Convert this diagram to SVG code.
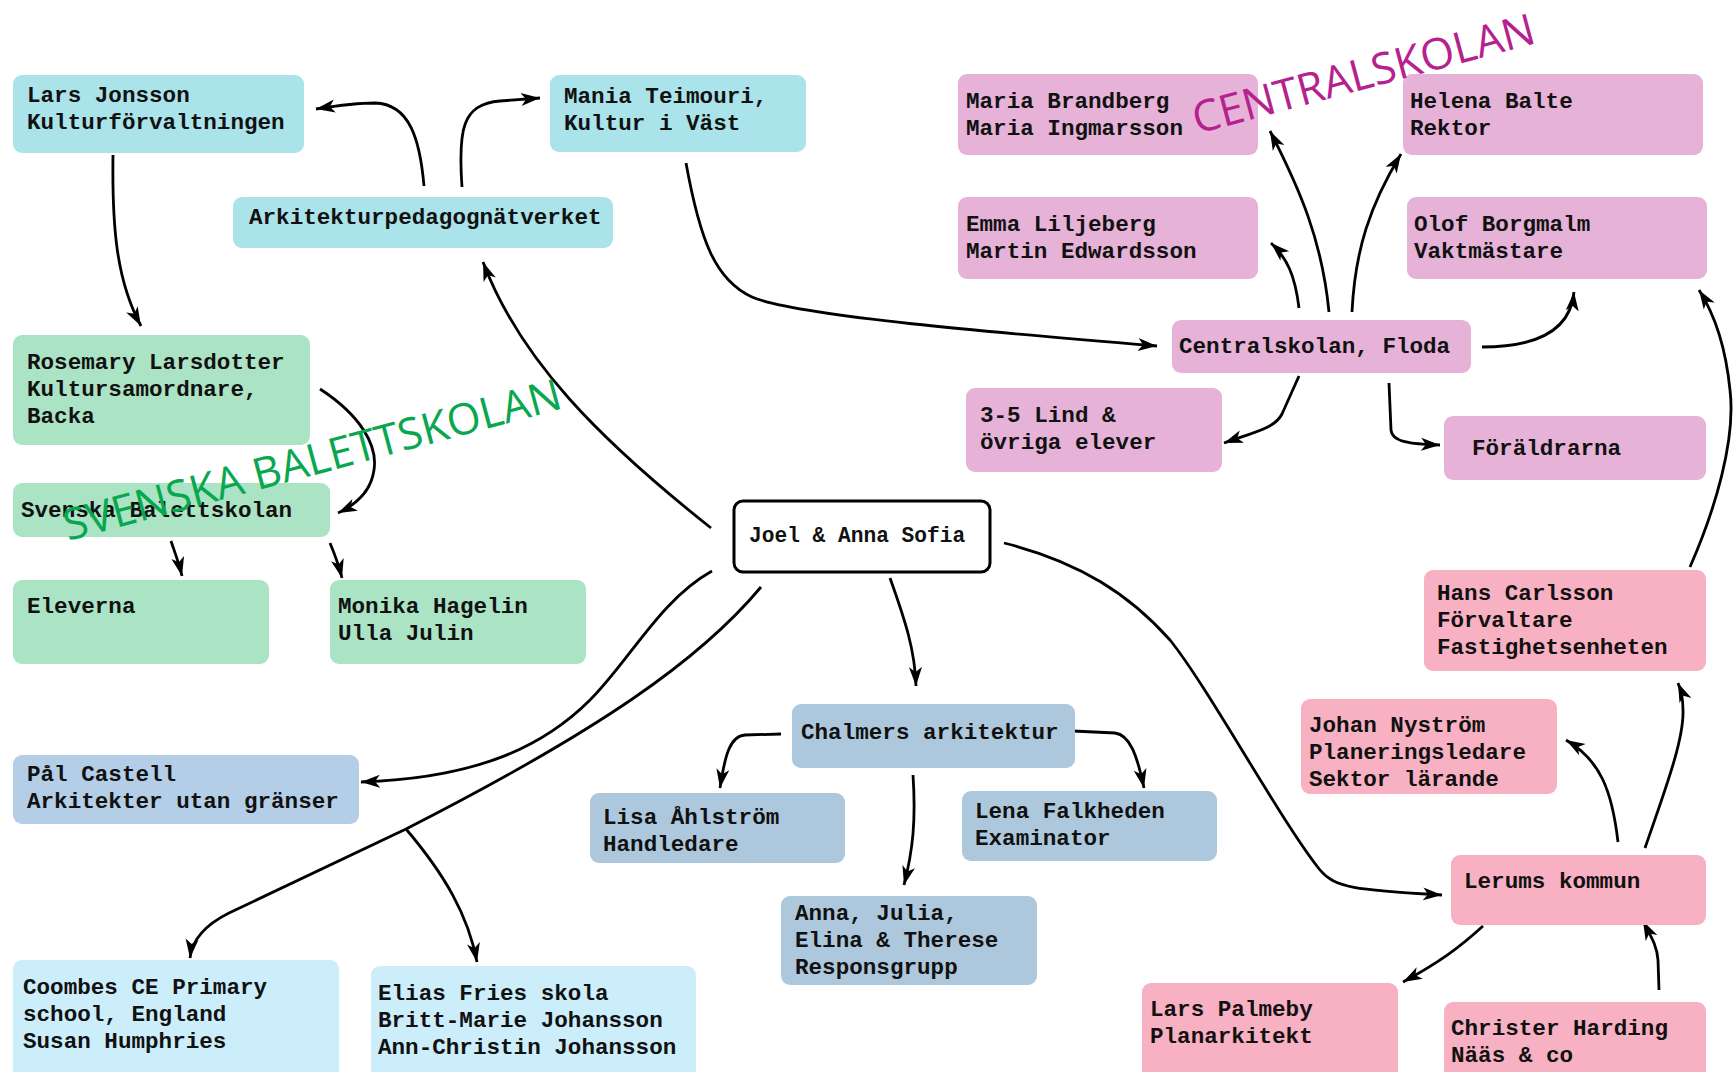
<svg xmlns="http://www.w3.org/2000/svg" width="1735" height="1072" viewBox="0 0 1735 1072">
<style>
.t{font-family:"Liberation Mono","Courier New",monospace;font-weight:bold;font-size:22.6px;fill:#111}
.c{fill:none;stroke:#000;stroke-width:2.8;marker-end:url(#ah)}
.cy{fill:#aae3ea}.gr{fill:#abe3c5}.pu{fill:#e6b2d7}.pk{fill:#f8b0c3}.sb{fill:#adc8dc}.pb{fill:#b3cee6}.lb{fill:#ccedfa}
.ov{font-family:"Open Sans","Noto Sans",sans-serif;font-size:43.5px}
</style>
<defs>
<marker id="ah" markerUnits="userSpaceOnUse" markerWidth="20" markerHeight="16" viewBox="0 0 20 16" refX="19" refY="8" orient="auto"><path d="M0,1.5 L19,8 L0,14.5 L5,8 Z" fill="#000"/></marker>
</defs>
<rect width="1735" height="1072" fill="#fff"/>
<g id="connectors">
<path class="c" d="M424,186 C420,140 410,104 375,103 C355,103 335,106 316,109"/>
<path class="c" d="M462,187 C458,130 462,104 500,101 C515,100 528,99 540,98"/>
<path class="c" d="M113,155 C112,225 116,280 141,326"/>
<path class="c" d="M320,389 C360,415 378,445 374,470 C371,492 355,505 338,513"/>
<path class="c" d="M171,541 C175,553 179,563 182,576"/>
<path class="c" d="M330,543 C335,555 339,566 342,578"/>
<path class="c" d="M711,528 C600,440 520,360 483,262"/>
<path class="c" d="M686,163 C700,240 715,280 752,297 C795,316 1000,333 1157,346"/>
<path class="c" d="M1329,312 C1322,240 1300,190 1270,131"/>
<path class="c" d="M1299,308 C1295,275 1287,258 1271,243"/>
<path class="c" d="M1352,312 C1355,250 1370,205 1401,154"/>
<path class="c" d="M1482,347 C1530,347 1570,335 1574,292"/>
<path class="c" d="M1299,376 L1282,414 C1275,428 1255,432 1224,443"/>
<path class="c" d="M1389,383 L1391,430 C1392,442 1410,444 1440,445"/>
<path class="c" d="M1690,567 C1715,510 1736,440 1730,390 C1726,350 1715,315 1699,290"/>
<path class="c" d="M890,578 C905,620 915,650 916,686"/>
<path class="c" d="M781,734 L745,735 C730,736 725,755 720,788"/>
<path class="c" d="M1073,731 L1115,733 C1130,735 1137,755 1144,788"/>
<path class="c" d="M913,775 C916,820 913,850 904,885"/>
<path class="c" d="M712,571 C660,600 630,660 590,700 C545,745 480,778 361,782"/>
<path class="c" d="M761,587 C700,660 600,730 406,829 L229,913 C205,925 192,940 190,958"/>
<path class="c" d="M406,829 C445,875 468,915 477,962"/>
<path class="c" d="M1004,543 C1080,562 1130,595 1170,640 C1210,690 1280,820 1320,870 C1335,888 1355,890 1442,895"/>
<path class="c" d="M1618,842 C1612,790 1600,760 1566,740"/>
<path class="c" d="M1645,848 C1665,790 1684,740 1683,710 C1683,698 1681,690 1678,683"/>
<path class="c" d="M1483,926 C1460,947 1440,962 1403,982"/>
<path class="c" d="M1659,990 L1658,960 C1657,945 1650,935 1643,921"/>
</g>
<g id="n-lars-jonsson"><rect class="cy" x="13" y="75" width="291" height="78" rx="9"/><text class="t" x="27" y="102">Lars Jonsson</text><text class="t" x="27" y="129">Kulturförvaltningen</text></g>
<g id="n-mania"><rect class="cy" x="550" y="75" width="256" height="77" rx="9"/><text class="t" x="564" y="103">Mania Teimouri,</text><text class="t" x="564" y="130">Kultur i Väst</text></g>
<g id="n-arkitektur"><rect class="cy" x="233" y="197" width="380" height="51" rx="9"/><text class="t" x="249" y="224">Arkitekturpedagognätverket</text></g>
<g id="n-rosemary"><rect class="gr" x="13" y="335" width="297" height="110" rx="9"/><text class="t" x="27" y="369">Rosemary Larsdotter</text><text class="t" x="27" y="396">Kultursamordnare,</text><text class="t" x="27" y="423">Backa</text></g>
<g id="n-svenska"><rect class="gr" x="13" y="483" width="317" height="54" rx="9"/><text class="t" x="21" y="517">Svenska Balettskolan</text></g>
<g id="n-eleverna"><rect class="gr" x="13" y="580" width="256" height="84" rx="9"/><text class="t" x="27" y="613">Eleverna</text></g>
<g id="n-monika"><rect class="gr" x="330" y="580" width="256" height="84" rx="9"/><text class="t" x="338" y="613">Monika Hagelin</text><text class="t" x="338" y="640">Ulla Julin</text></g>
<g id="n-joel"><rect x="734" y="501" width="256" height="71" rx="9" fill="#fff" stroke="#000" stroke-width="3"/><text class="t" x="749" y="542" style="font-size:21.2px">Joel &amp; Anna Sofia</text></g>
<g id="n-pal"><rect class="pb" x="13" y="755" width="346" height="69" rx="9"/><text class="t" x="27" y="781">Pål Castell</text><text class="t" x="27" y="808">Arkitekter utan gränser</text></g>
<g id="n-coombes"><rect class="lb" x="13" y="960" width="326" height="130" rx="9"/><text class="t" x="23" y="994">Coombes CE Primary</text><text class="t" x="23" y="1021">school, England</text><text class="t" x="23" y="1048">Susan Humphries</text></g>
<g id="n-elias"><rect class="lb" x="371" y="966" width="325" height="130" rx="9"/><text class="t" x="378" y="1000">Elias Fries skola</text><text class="t" x="378" y="1027">Britt-Marie Johansson</text><text class="t" x="378" y="1054">Ann-Christin Johansson</text></g>
<g id="n-chalmers"><rect class="sb" x="792" y="704" width="283" height="64" rx="9"/><text class="t" x="801" y="739">Chalmers arkitektur</text></g>
<g id="n-lisa"><rect class="sb" x="590" y="793" width="255" height="70" rx="9"/><text class="t" x="603" y="824">Lisa Åhlström</text><text class="t" x="603" y="851">Handledare</text></g>
<g id="n-lena"><rect class="sb" x="962" y="791" width="255" height="70" rx="9"/><text class="t" x="975" y="818">Lena Falkheden</text><text class="t" x="975" y="845">Examinator</text></g>
<g id="n-anna"><rect class="sb" x="781" y="896" width="256" height="89" rx="9"/><text class="t" x="795" y="920">Anna, Julia,</text><text class="t" x="795" y="947">Elina &amp; Therese</text><text class="t" x="795" y="974">Responsgrupp</text></g>
<g id="n-maria"><rect class="pu" x="958" y="74" width="300" height="81" rx="9"/><text class="t" x="966" y="108">Maria Brandberg</text><text class="t" x="966" y="135">Maria Ingmarsson</text></g>
<g id="n-helena"><rect class="pu" x="1403" y="74" width="300" height="81" rx="9"/><text class="t" x="1410" y="108">Helena Balte</text><text class="t" x="1410" y="135">Rektor</text></g>
<g id="n-emma"><rect class="pu" x="958" y="197" width="300" height="82" rx="9"/><text class="t" x="966" y="231">Emma Liljeberg</text><text class="t" x="966" y="258">Martin Edwardsson</text></g>
<g id="n-olof"><rect class="pu" x="1407" y="197" width="300" height="82" rx="9"/><text class="t" x="1414" y="231">Olof Borgmalm</text><text class="t" x="1414" y="258">Vaktmästare</text></g>
<g id="n-central"><rect class="pu" x="1172" y="320" width="299" height="53" rx="9"/><text class="t" x="1179" y="353">Centralskolan, Floda</text></g>
<g id="n-lind"><rect class="pu" x="966" y="388" width="256" height="84" rx="9"/><text class="t" x="980" y="422">3-5 Lind &amp;</text><text class="t" x="980" y="449">övriga elever</text></g>
<g id="n-foraldrarna"><rect class="pu" x="1444" y="416" width="262" height="64" rx="9"/><text class="t" x="1472" y="455">Föräldrarna</text></g>
<g id="n-hans"><rect class="pk" x="1424" y="570" width="282" height="101" rx="9"/><text class="t" x="1437" y="600">Hans Carlsson</text><text class="t" x="1437" y="627">Förvaltare</text><text class="t" x="1437" y="654">Fastighetsenheten</text></g>
<g id="n-johan"><rect class="pk" x="1301" y="699" width="256" height="95" rx="9"/><text class="t" x="1309" y="732">Johan Nyström</text><text class="t" x="1309" y="759">Planeringsledare</text><text class="t" x="1309" y="786">Sektor lärande</text></g>
<g id="n-lerums"><rect class="pk" x="1451" y="855" width="255" height="70" rx="9"/><text class="t" x="1464" y="888">Lerums kommun</text></g>
<g id="n-palmeby"><rect class="pk" x="1142" y="983" width="256" height="110" rx="9"/><text class="t" x="1150" y="1016">Lars Palmeby</text><text class="t" x="1150" y="1043">Planarkitekt</text></g>
<g id="n-christer"><rect class="pk" x="1444" y="1002" width="262" height="90" rx="9"/><text class="t" x="1451" y="1035">Christer Harding</text><text class="t" x="1451" y="1062">Nääs &amp; co</text></g>
<g id="label-svenska"><text class="ov" x="68" y="541" fill="#09a74f" transform="rotate(-15 68 541)">SVENSKA BALETTSKOLAN</text></g>
<g id="label-central"><text class="ov" x="1197" y="134" fill="#b5218e" transform="rotate(-15 1197 134)">CENTRALSKOLAN</text></g>
</svg>
